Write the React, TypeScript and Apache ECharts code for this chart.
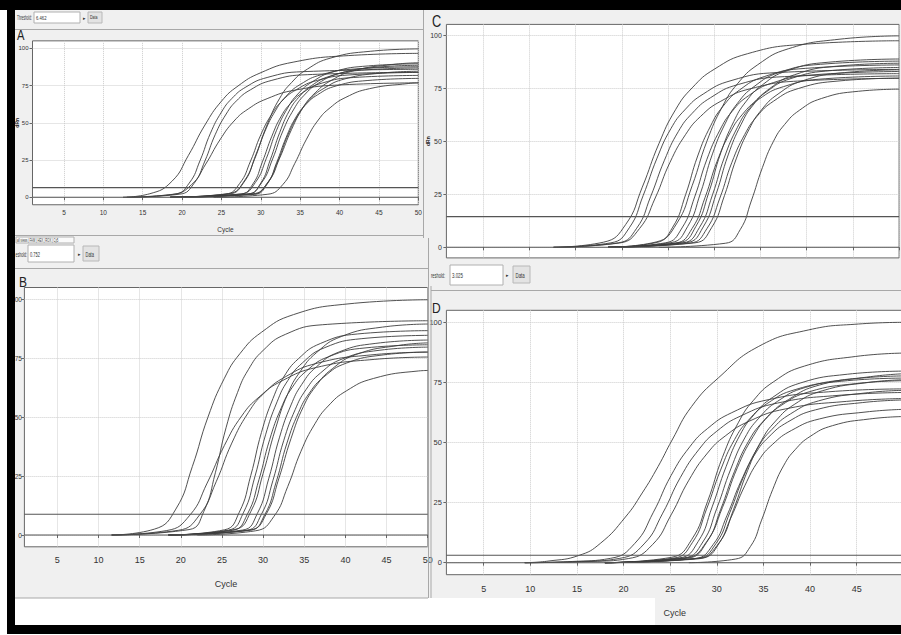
import React, { useEffect, useRef } from "react";
import * as echarts from "echarts";

const xTicks = [5, 10, 15, 20, 25, 30, 35, 40, 45, 50];
const xLabelsD = [5, 10, 15, 20, 25, 30, 35, 40, 45];
const yTicks = [0, 25, 50, 75, 100];
const thresholds = [6.46, 8.8, 14.4, 3.1];
const thresholdTexts = ["6.462", "0.752", "3.025"];
const panelLetters = ["A", "B", "C", "D"];

const curvesA = [
  [[12.5,0],[15.9,2.4],[18.7,10.7],[20.8,28.1],[22.9,48.5],[25.0,64.5],[27.1,74.7],[29.9,83.4],[34.1,90.7],[41.1,95.1],[50,96.6]],
  [[12.5,0],[19.1,2.2],[20.9,9.5],[22.3,24.9],[23.6,43],[25.0,57.2],[26.3,66.2],[28.1,74],[30.8,80.4],[35.3,84.3],[50,85.9]],
  [[13,0],[19.7,2.1],[21.5,9.2],[22.9,24.4],[24.2,42],[25.6,55.9],[26.9,64.7],[28.7,72.2],[31.4,78.5],[35.9,82.3],[50,83.9]],
  [[13,0],[18.8,1.9],[21.2,8.5],[23.0,22.3],[24.8,38.5],[26.6,51.2],[28.4,59.3],[30.8,66.2],[34.4,72],[40.4,75.5],[50,76.8]],
  [[18.5,0],[25.5,2.1],[27.3,9.2],[28.7,24.4],[30.0,42],[31.4,55.9],[32.7,64.7],[34.5,72.2],[37.2,78.5],[41.7,82.3],[50,83.8]],
  [[18.5,0],[26.0,2.2],[27.8,9.7],[29.2,25.5],[30.5,44],[31.9,58.5],[33.2,67.8],[35.0,75.7],[37.7,82.3],[42.2,86.2],[50,87.6]],
  [[18.5,0],[25.9,2.5],[27.9,11],[29.4,29],[30.9,50],[32.4,66.5],[33.9,77],[35.9,86],[38.9,93.5],[43.9,98],[50,99.6]],
  [[18.5,0],[27.4,2.1],[29.0,9.0],[30.2,23.8],[31.4,41],[32.6,54.5],[33.8,63.1],[35.4,70.5],[37.8,76.7],[41.8,80.4],[50,81.8]],
  [[18.5,0],[27.5,2.3],[29.3,9.9],[30.7,26.1],[32.0,45],[33.4,59.9],[34.7,69.3],[36.5,77.4],[39.2,84.2],[43.7,88.2],[50,89.6]],
  [[18.5,0],[28.4,2.2],[30.0,9.6],[31.2,25.2],[32.4,43.5],[33.6,57.9],[34.8,67.0],[36.4,74.8],[38.8,81.3],[42.8,85.3],[50,86.8]],
  [[18.5,0],[28.3,2.2],[30.1,9.8],[31.5,25.8],[32.8,44.5],[34.2,59.2],[35.5,68.5],[37.3,76.5],[40.0,83.2],[44.5,87.2],[50,88.6]],
  [[18.5,0],[29.2,2.0],[30.8,8.8],[32.0,23.2],[33.2,40],[34.4,53.2],[35.6,61.6],[37.2,68.8],[39.6,74.8],[43.6,78.4],[50,79.8]],
  [[18.5,0],[29.0,2.1],[30.8,9.4],[32.2,24.7],[33.5,42.5],[34.9,56.5],[36.2,65.5],[38.0,73.1],[40.7,79.5],[45.2,83.3],[50,84.6]],
  [[18.5,0],[28.9,2.3],[30.9,10.0],[32.4,26.4],[33.9,45.5],[35.4,60.5],[36.9,70.1],[38.9,78.3],[41.9,85.1],[46.9,89.2],[50,90.3]],
  [[24,0],[30.8,2.0],[32.8,8.6],[34.3,22.6],[35.8,39],[37.3,51.9],[38.8,60.1],[40.8,67.1],[43.8,72.9],[48.8,76.4],[50,76.8]],
];

const curvesB = [
  [[11.6,0],[16.8,2.5],[19.4,11],[21.4,29],[23.3,50],[25.3,66.5],[27.2,77],[29.8,86],[33.7,93.5],[40.2,98],[50,99.8]],
  [[11.6,0],[21.0,2.3],[22.8,10.0],[24.2,26.4],[25.5,45.5],[26.9,60.5],[28.2,70.1],[30.0,78.3],[32.7,85.1],[37.2,89.2],[50,90.9]],
  [[11.6,0],[18.3,1.9],[21.1,8.4],[23.2,22.0],[25.3,38],[27.4,50.5],[29.5,58.5],[32.3,65.4],[36.5,71.1],[43.5,74.5],[50,75.5]],
  [[11.6,0],[19.7,2.0],[22.3,8.6],[24.3,22.6],[26.2,39],[28.2,51.9],[30.1,60.1],[32.7,67.1],[36.6,72.9],[43.1,76.4],[50,77.6]],
  [[18.5,0],[25.3,2.2],[27.1,9.6],[28.5,25.2],[29.8,43.5],[31.2,57.9],[32.5,67.0],[34.3,74.8],[37.0,81.3],[41.5,85.3],[50,86.7]],
  [[18.5,0],[25.8,2.1],[27.6,9.4],[29.0,24.7],[30.3,42.5],[31.7,56.5],[33.0,65.5],[34.8,73.1],[37.5,79.5],[42.0,83.3],[50,84.7]],
  [[18.5,0],[26.3,2.0],[28.1,8.9],[29.5,23.5],[30.8,40.5],[32.2,53.9],[33.5,62.4],[35.3,69.7],[38.0,75.7],[42.5,79.4],[50,80.7]],
  [[18.5,0],[26.5,2.3],[28.5,9.9],[30.0,26.1],[31.5,45],[33.0,59.9],[34.5,69.3],[36.5,77.4],[39.5,84.2],[44.5,88.2],[50,89.5]],
  [[18.5,0],[27.5,2.1],[29.3,9.1],[30.7,24.1],[32.0,41.5],[33.4,55.2],[34.7,63.9],[36.5,71.4],[39.2,77.6],[43.7,81.3],[50,82.7]],
  [[18.5,0],[28.0,2.0],[29.8,8.8],[31.2,23.2],[32.5,40],[33.9,53.2],[35.2,61.6],[37.0,68.8],[39.7,74.8],[44.2,78.4],[50,79.7]],
  [[18.5,0],[28.4,2.0],[30.2,8.6],[31.6,22.6],[32.9,39],[34.3,51.9],[35.6,60.1],[37.4,67.1],[40.1,72.9],[44.6,76.4],[50,77.6]],
  [[18.5,0],[28.4,2.1],[30.4,9.0],[31.9,23.8],[33.4,41],[34.9,54.5],[36.4,63.1],[38.4,70.5],[41.4,76.7],[46.4,80.4],[50,81.5]],
  [[22,0],[29.1,1.8],[31.3,7.8],[33.0,20.6],[34.6,35.5],[36.3,47.2],[37.9,54.7],[40.1,61.1],[43.4,66.4],[48.9,69.6],[50,69.8]],
];

const curvesC = [
  [[12.6,0],[18.0,2.4],[20.4,10.7],[22.2,28.3],[24.0,48.8],[25.8,64.8],[27.6,75.1],[30.0,83.9],[33.6,91.2],[39.6,95.6],[50,97.3]],
  [[12.6,0],[18.8,2.1],[20.8,9.2],[22.3,24.4],[23.8,42],[25.3,55.9],[26.8,64.7],[28.8,72.2],[31.8,78.5],[36.8,82.3],[50,83.8]],
  [[12.6,0],[19.6,2.1],[21.6,9.0],[23.1,23.8],[24.6,41],[26.1,54.5],[27.6,63.1],[29.6,70.5],[32.6,76.7],[37.6,80.4],[50,81.8]],
  [[12.6,0],[19.7,2.0],[21.9,8.8],[23.6,23.2],[25.2,40],[26.9,53.2],[28.5,61.6],[30.7,68.8],[34.0,74.8],[39.5,78.4],[50,79.6]],
  [[18.5,0],[23.7,2.2],[25.5,9.5],[26.9,24.9],[28.2,43],[29.6,57.2],[30.9,66.2],[32.7,74.0],[35.4,80.4],[39.9,84.3],[50,85.9]],
  [[18.5,0],[23.7,2.5],[25.9,11],[27.6,29],[29.2,50],[30.9,66.5],[32.5,77],[34.7,86],[38.0,93.5],[43.5,98],[50,99.6]],
  [[18.5,0],[24.7,2.1],[26.5,9.1],[27.9,24.1],[29.2,41.5],[30.6,55.2],[31.9,63.9],[33.7,71.4],[36.4,77.6],[40.9,81.3],[50,82.8]],
  [[18.5,0],[25.3,2.2],[27.1,9.7],[28.5,25.5],[29.8,44],[31.2,58.5],[32.5,67.8],[34.3,75.7],[37.0,82.3],[41.5,86.2],[50,87.7]],
  [[18.5,0],[25.8,2.0],[27.6,8.9],[29.0,23.5],[30.3,40.5],[31.7,53.9],[33.0,62.4],[34.8,69.7],[37.5,75.7],[42.0,79.4],[50,80.7]],
  [[18.5,0],[26.2,2.2],[28.0,9.8],[29.4,25.8],[30.7,44.5],[32.1,59.2],[33.4,68.5],[35.2,76.5],[37.9,83.2],[42.4,87.2],[50,88.7]],
  [[18.5,0],[26.6,2.1],[28.4,9.4],[29.8,24.7],[31.1,42.5],[32.5,56.5],[33.8,65.5],[35.6,73.1],[38.3,79.5],[42.8,83.3],[50,84.7]],
  [[18.5,0],[27.0,2.2],[28.8,9.6],[30.2,25.2],[31.5,43.5],[32.9,57.9],[34.2,67.0],[36.0,74.8],[38.7,81.3],[43.2,85.3],[50,86.7]],
  [[18.5,0],[27.4,2.0],[29.2,8.8],[30.6,23.2],[31.9,40],[33.3,53.2],[34.6,61.6],[36.4,68.8],[39.1,74.8],[43.6,78.4],[50,79.7]],
  [[18.5,0],[27.9,2.1],[29.7,9.2],[31.1,24.4],[32.4,42],[33.8,55.9],[35.1,64.7],[36.9,72.2],[39.6,78.5],[44.1,82.3],[50,83.6]],
  [[24,0],[31.2,1.9],[32.8,8.3],[34.0,21.8],[35.2,37.5],[36.4,49.9],[37.6,57.8],[39.2,64.5],[41.6,70.1],[45.6,73.5],[50,74.5]],
];

const curvesD = [
  [[9.4,0],[12,0.7],[15.2,3],[17.5,8],[20.2,19],[22,29],[23.7,40],[25.2,51],[27.3,65],[30.2,77],[34.5,90],[39.8,96.8],[45.2,99.3],[50,100]],
  [[9.4,0],[14.5,0.5],[18.6,1.8],[21.2,8.0],[23.2,21.0],[25.1,36.3],[27.1,48.2],[29.0,55.8],[31.6,62.4],[35.5,67.8],[42.0,71.1],[50,72.3]],
  [[9.4,0],[15.5,0.5],[19.6,1.8],[22.2,7.8],[24.2,20.6],[26.1,35.5],[28.1,47.2],[30.0,54.7],[32.6,61.1],[36.5,66.4],[43.0,69.6],[50,70.8]],
  [[9.4,0],[16.5,0.5],[20.5,1.7],[23.1,7.5],[25.1,19.9],[27.0,34.3],[29.0,45.6],[30.9,52.7],[33.5,58.9],[37.4,64.0],[43.9,67.1],[50,68.3]],
  [[18,0],[25.1,2.2],[27.3,9.6],[29.0,25.4],[30.6,43.8],[32.3,58.2],[33.9,67.4],[36.1,75.3],[39.4,81.8],[44.9,85.8],[50,87.2]],
  [[18,0],[25.4,1.9],[27.4,8.5],[28.9,22.3],[30.4,38.5],[31.9,51.2],[33.4,59.3],[35.4,66.2],[38.4,72.0],[43.4,75.5],[50,76.8]],
  [[18,0],[26.0,2.0],[28.0,8.8],[29.5,23.2],[31.0,40],[32.5,53.2],[34.0,61.6],[36.0,68.8],[39.0,74.8],[44.0,78.4],[50,79.7]],
  [[18,0],[26.5,2.0],[28.5,8.6],[30.0,22.6],[31.5,39],[33.0,51.9],[34.5,60.1],[36.5,67.1],[39.5,72.9],[44.5,76.4],[50,77.7]],
  [[18,0],[26.9,1.9],[28.9,8.4],[30.4,22.0],[31.9,38],[33.4,50.5],[34.9,58.5],[36.9,65.4],[39.9,71.1],[44.9,74.5],[50,75.7]],
  [[18,0],[26.7,2.0],[28.9,8.7],[30.6,22.9],[32.2,39.5],[33.9,52.5],[35.5,60.8],[37.7,67.9],[41.0,73.9],[46.5,77.4],[50,78.6]],
  [[18,0],[27.6,1.7],[29.6,7.5],[31.1,19.7],[32.6,34],[34.1,45.2],[35.6,52.4],[37.6,58.5],[40.6,63.6],[45.6,66.6],[50,67.7]],
  [[18,0],[28.0,1.6],[30.0,7.0],[31.5,18.6],[33.0,32],[34.5,42.6],[36.0,49.3],[38.0,55.0],[41.0,59.8],[46.0,62.7],[50,63.8]],
  [[18,0],[27.9,1.8],[29.9,7.9],[31.4,20.9],[32.9,36],[34.4,47.9],[35.9,55.4],[37.9,61.9],[40.9,67.3],[45.9,70.6],[50,71.7]],
  [[18,0],[28.3,1.9],[30.3,8.4],[31.8,22.2],[33.3,38.3],[34.8,50.9],[36.3,58.9],[38.3,65.8],[41.3,71.5],[46.3,75.0],[50,76.1]],
  [[27,0],[32.0,1.5],[33.6,6.7],[34.8,17.7],[36.0,30.5],[37.2,40.6],[38.4,47.0],[40.0,52.5],[42.4,57.0],[46.4,59.8],[50,60.8]],
];

const allCurves = [curvesA, curvesB, curvesC, curvesD];

// layout (pixels) for each panel's plot area
const layout = [
  { left: 32.5, top: 40.85, width: 385.8, height: 163.9, xFont: 6.5, yFont: 6, xMargin: 4, yMargin: 4, showX: true, labels: xTicks, nameGap: 21, yName: true, yNameGap: 13 },
  { left: 24.4, top: 287.5, width: 403.3, height: 259.3, xFont: 9, yFont: 6.5, xMargin: 9, yMargin: 2.5, showX: true, labels: xTicks, nameGap: 33, yName: false, yNameGap: 14 },
  { left: 446.4, top: 24.4, width: 452.7, height: 233.5, xFont: 8, yFont: 7, xMargin: 6, yMargin: 4.5, showX: false, labels: xTicks, nameGap: 30, yName: true, yNameGap: 16 },
  { left: 446.4, top: 310.3, width: 456.9, height: 264.4, xFont: 9, yFont: 7.5, xMargin: 10, yMargin: 4.5, showX: true, labels: xLabelsD, nameGap: 34, yName: false, yNameGap: 14 },
];

const FONT = "'Liberation Sans', Arial, sans-serif";
const PANEL_BG = "#f0f0f0";
const EDGE = "#a8a8a8";

function buildOption() {
  const grid: any[] = [];
  const xAxis: any[] = [];
  const yAxis: any[] = [];
  const series: any[] = [];
  layout.forEach((L, i) => {
    grid.push({
      left: L.left, top: L.top, width: L.width, height: L.height,
      show: true, backgroundColor: "#ffffff", borderColor: "#666", borderWidth: 1,
      containLabel: false, outerBoundsMode: "none",
    });
    xAxis.push({
      type: "value", gridIndex: i, min: 1, max: 50,
      axisLine: { show: false },
      axisTick: { show: true, length: 3, customValues: xTicks, lineStyle: { color: "#666" } },
      axisLabel: { show: L.showX, customValues: L.labels, fontSize: L.xFont, color: "#333", margin: L.xMargin, fontFamily: FONT, hideOverlap: false },
      splitLine: { show: true, lineStyle: { color: "#cccccc", type: "dotted", width: 1 } },
      name: L.showX ? "Cycle" : "",
      nameLocation: "middle", nameGap: L.nameGap, nameMoveOverlap: false,
      nameTextStyle: { fontSize: L.xFont, color: "#333", fontFamily: FONT },
    });
    yAxis.push({
      type: "value", gridIndex: i, min: -5, max: 105,
      axisLine: { show: false },
      axisTick: { show: true, length: 3, customValues: yTicks, lineStyle: { color: "#666" } },
      axisLabel: { customValues: yTicks, fontSize: L.yFont, color: "#333", margin: L.yMargin, fontFamily: FONT },
      splitLine: { show: true, lineStyle: { color: "#cccccc", type: "dotted", width: 1 } },
      name: L.yName ? "dRn" : "",
      nameLocation: "middle", nameGap: L.yNameGap, nameRotate: 90, nameMoveOverlap: false,
      nameTextStyle: { fontSize: 5, color: "#222", fontWeight: "bold", fontFamily: FONT },
    });
    allCurves[i].forEach((c, j) => {
      series.push({
        type: "line", name: panelLetters[i] + (j + 1), xAxisIndex: i, yAxisIndex: i,
        data: c, smooth: 0.5, showSymbol: false, symbol: "none",
        lineStyle: { width: 0.9, color: "#3d3d3d" }, silent: true, z: 3,
      });
    });
    series.push({
      type: "line", name: "threshold" + panelLetters[i], xAxisIndex: i, yAxisIndex: i,
      data: [[1, thresholds[i]], [50, thresholds[i]]], showSymbol: false, symbol: "none",
      lineStyle: { width: 1.2, color: "#555" }, silent: true, z: 4,
    });
    series.push({
      type: "line", name: "baseline" + panelLetters[i], xAxisIndex: i, yAxisIndex: i,
      data: [[1, 0], [50, 0]], showSymbol: false, symbol: "none",
      lineStyle: { width: 1.1, color: "#555" }, silent: true, z: 4,
    });
  });

  const bg = (x: number, y: number, w: number, h: number, fill: string, z = -10) => ({
    type: "rect", shape: { x, y, width: w, height: h }, style: { fill }, z, silent: true,
  });
  const hline = (x1: number, x2: number, y: number, color = EDGE, w = 1) => ({
    type: "line", shape: { x1, y1: y, x2, y2: y }, style: { stroke: color, lineWidth: w }, z: 50, silent: true,
  });
  const vline = (x: number, y1: number, y2: number, color = EDGE, w = 1) => ({
    type: "line", shape: { x1: x, y1, x2: x, y2 }, style: { stroke: color, lineWidth: w }, z: 50, silent: true,
  });
  const txt = (x: number, y: number, text: string, size: number, sx = 1, extra: any = {}) => ({
    type: "text", x, y, scaleX: sx, z: 60, silent: true,
    style: { text, fontSize: size, fill: "#333", fontFamily: FONT, verticalAlign: "middle", align: "left", ...extra },
  });
  const box = (x: number, y: number, w: number, h: number, fill: string, stroke: string) => ({
    type: "rect", shape: { x, y, width: w, height: h }, style: { fill, stroke, lineWidth: 1 }, z: 55, silent: true,
  });

  const elements: any[] = [
    // panel backgrounds
    bg(15, 10, 408, 228, PANEL_BG),
    bg(423, 10, 478, 252, PANEL_BG),
    bg(15, 238, 413, 360, PANEL_BG),
    bg(428, 262, 473, 336, PANEL_BG),
    bg(655, 598, 246, 27, PANEL_BG),
    // separators
    vline(423.5, 10, 238),
    hline(15, 423, 29.5),
    hline(15, 423, 235.5),
    hline(15, 428, 268.5),
    hline(15, 428, 598),
    vline(428.5, 238, 598),
    vline(431, 286, 598),
    hline(431, 901, 290.5),
    // toolbar A
    txt(17, 17.5, "Threshold:", 7, 0.45),
    box(34, 12, 46, 11, "#ffffff", "#b0b0b0"),
    txt(36, 17.5, thresholdTexts[0], 6, 0.7),
    txt(83, 17.5, "\u25B8", 5),
    box(88, 12, 14, 11, "#e3e3e3", "#b8b8b8"),
    txt(90, 17.5, "Data", 6, 0.6),
    // tabs under A
    box(16, 237, 58, 6, "#fafafa", "#b0b0b0"),
    txt(17, 240, "all views | FAM | HEX | ROX | Cy5", 5, 0.55),
    // toolbar B
    txt(15.5, 253.5, "eshold:", 8, 0.45),
    box(28, 245, 46, 17, "#ffffff", "#b0b0b0"),
    txt(30, 253.5, thresholdTexts[1], 8, 0.5),
    txt(78, 253.5, "\u25B8", 5),
    box(83, 246, 16, 15, "#e3e3e3", "#b8b8b8"),
    txt(85.5, 253.5, "Data", 8, 0.5),
    // toolbar D
    txt(431, 275, "reshold:", 8, 0.5),
    box(450, 265, 53, 20, "#ffffff", "#b0b0b0"),
    txt(452, 275, thresholdTexts[2], 8, 0.55),
    txt(506, 275, "\u25B8", 5),
    box(513, 266, 17, 17, "#e3e3e3", "#b8b8b8"),
    txt(515.5, 275, "Data", 8, 0.55),
    // panel letters
    txt(17, 36, panelLetters[0], 14, 0.8, { fill: "#222" }),
    txt(19, 282, panelLetters[1], 15, 0.8, { fill: "#222" }),
    txt(432, 21, panelLetters[2], 17, 0.75, { fill: "#222" }),
    txt(432, 308, panelLetters[3], 15, 0.8, { fill: "#222" }),
    // black frame
    bg(0, 0, 901, 10, "#000", 90),
    bg(7, 0, 8, 634, "#000", 90),
    bg(7, 625, 894, 9, "#000", 90),
  ];

  return {
    animation: false,
    backgroundColor: "#ffffff",
    grid, xAxis, yAxis, series,
    graphic: { elements },
  };
}

export default function App() {
  const ref = useRef<HTMLDivElement>(null);
  useEffect(() => {
    document.body.style.margin = "0";
    if (!ref.current) return;
    const chart = echarts.init(ref.current, undefined, { renderer: "svg" });
    chart.setOption(buildOption() as any);
    return () => chart.dispose();
  }, []);
  return <div ref={ref} style={{ width: 901, height: 635 }} />;
}
